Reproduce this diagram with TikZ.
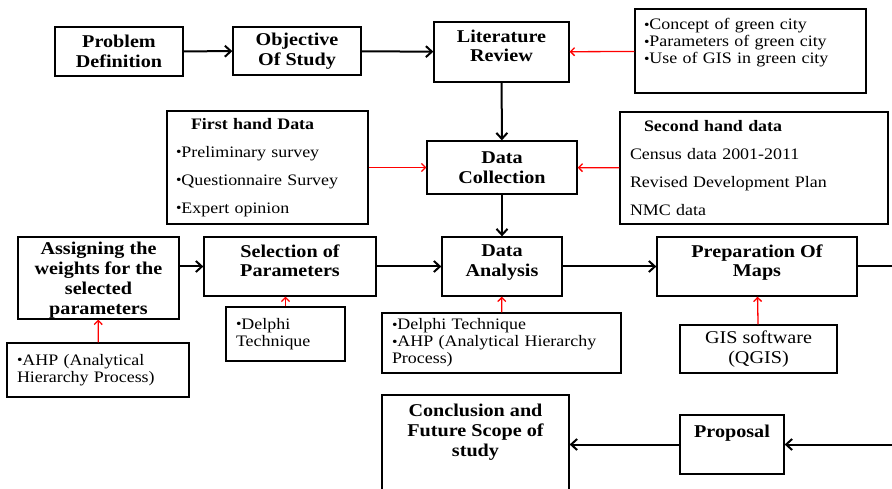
\documentclass[tikz,border=0pt]{standalone}
\usepackage{fontspec}
\setmainfont{Liberation Serif}[FakeStretch=1.12]
\usetikzlibrary{arrows.meta}
\newcommand{\bul}{\raisebox{0.5pt}{\fontsize{14}{14}\selectfont\textbullet}}

\begin{document}
\begin{tikzpicture}[
    x=1pt, y=-1pt,
    box/.style={draw=black, line width=1.3pt, text=black, align=center, inner sep=0pt, font=\fontsize{18}{19.5}\selectfont\bfseries},
    highbox/.style={box, minimum height=59pt, text depth=12pt},
    listbox/.style={draw=black, line width=1.3pt, text=black, align=left, inner xsep=10pt, inner ysep=0pt, font=\fontsize{16}{17}\selectfont},
    flow/.style={draw=black, line width=2pt, -{Straight Barb[length=6pt,width=11pt]}},
    feed/.style={draw=red, line width=1.3pt, -{Straight Barb[length=4pt,width=8pt]}}
]
\useasboundingbox (0,0) rectangle (892,489);
\clip (0,0) rectangle (892,489);

% top row
\node[box, minimum width=128pt, minimum height=49pt] (problem) at (119,51.5) {Problem\\Definition};
\node[box, minimum width=128pt, minimum height=48pt] (objective) at (297,51) {Objective\\Of Study};
\node[box, minimum width=135pt, minimum height=60pt, text depth=12pt] (literature) at (501.5,52) {Literature\\Review};
\node[listbox, inner xsep=9pt, text width=213pt, minimum height=84pt, text depth=53.5pt] (concepts) at (750.5,51) {\bul Concept of green city\\\bul Parameters of green city\\\bul Use of GIS in green city};

% data collection
\node[listbox, inner xsep=9pt, text width=183pt, minimum height=113pt, font=\fontsize{16}{28}\selectfont] (firsthand) at (267.5,167.5) {\hspace*{15pt}\textbf{First hand Data}\\\bul Preliminary survey\\\bul Questionnaire Survey\\\bul Expert opinion};
\node[box, minimum width=150pt, minimum height=53pt] (collection) at (502,167.5) {Data\\Collection};
\node[listbox, text width=248pt, minimum height=112pt, font=\fontsize{16}{28}\selectfont] (secondhand) at (754,168) {\hspace*{14pt}\textbf{Second hand data}\\Census data 2001-2011\\Revised Development Plan\\NMC data};

% analysis row
\node[box, minimum width=161pt, minimum height=82pt, text depth=0pt, font=\fontsize{18}{20}\selectfont\bfseries] (weights) at (98.5,278) {Assigning the\\weights for the\\selected\\parameters};
\node[highbox, minimum width=172pt] (selection) at (290,266.5) {Selection of\\Parameters};
\node[highbox, minimum width=120pt] (analysis) at (502,266.5) {Data\\Analysis};
\node[highbox, minimum width=200pt] (maps) at (757,266.5) {Preparation Of\\Maps};

\node[listbox, text width=162pt, minimum height=54pt] (ahp) at (98,370) {\bul AHP (Analytical\\Hierarchy Process)};
\node[listbox, text width=99pt, minimum height=54pt] (delphi) at (285.5,334) {\bul Delphi\\Technique};
\node[listbox, text width=219pt, minimum height=60pt] (techniques) at (501.5,343) {\bul Delphi Technique\\\bul AHP (Analytical Hierarchy\\Process)};
\node[box, minimum width=157pt, minimum height=48pt, font=\fontsize{18}{20}\selectfont] (gis) at (758.5,349) {GIS software\\(QGIS)};

% bottom row
\node[box, minimum width=187pt, minimum height=125pt, text depth=55pt, font=\fontsize{18}{20}\selectfont\bfseries] (conclusion) at (475.5,457.5) {Conclusion and\\Future Scope of\\study};
\node[box, minimum width=104pt, minimum height=59pt, text depth=27pt] (proposal) at (732,444.5) {Proposal};

\draw[flow] (problem) -- (objective);
\draw[flow] (objective) -- (literature);
\draw[flow] (literature) -- (collection);
\draw[flow] (collection) -- (analysis);
\draw[flow] (weights.east |- selection) -- (selection.west);
\draw[flow] (selection) -- (analysis);
\draw[flow] (analysis) -- (maps);
\draw[flow] (maps.east) -- ++(60,0) |- (proposal.east);
\draw[flow] (proposal.west) -- (proposal.west -| conclusion.east);

\draw[feed] (concepts) -- (literature);
\draw[feed] (firsthand) -- (collection);
\draw[feed] (secondhand) -- (collection);
\draw[feed] (ahp) -- (weights);
\draw[feed] (delphi.north) -- (delphi.north |- selection.south);
\draw[feed] (techniques) -- (analysis);
\draw[feed] (gis) -- (maps);
\end{tikzpicture}
\end{document}
